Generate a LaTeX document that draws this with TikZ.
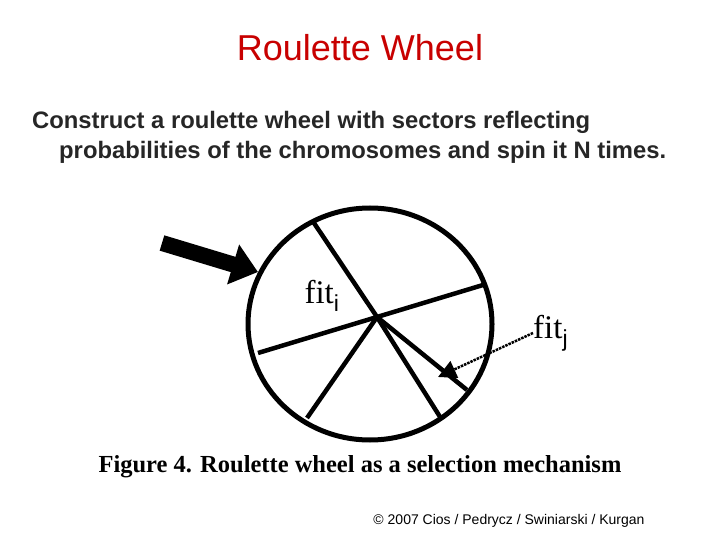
\documentclass[tikz,border=0pt]{standalone}
\usepackage{fontspec}
\setmainfont{Liberation Sans}
\newfontfamily\serif{Liberation Serif}
\usetikzlibrary{arrows.meta}
\definecolor{titlered}{RGB}{200,0,0}
\begin{document}
\begin{tikzpicture}[x=1pt,y=-1pt,
  spoke/.style={line width=4.5pt},
  body/.style={anchor=west,inner sep=0pt,font=\fontsize{23.8}{26}\selectfont\bfseries,text=black!85},
  lbl/.style={inner sep=0pt,font=\serif\fontsize{33}{35}\selectfont}]
\useasboundingbox[fill=white] (0,0) rectangle (720,540);
\node[font=\fontsize{36}{38}\selectfont,text=titlered] (title) at (360,48) {Roulette Wheel};
\node[body] (l1) at (32,122) {Construct a roulette wheel with sectors reflecting};
\node[body] (l2) at (59,152) {probabilities of the chromosomes and spin it N times.};
\coordinate (c) at (370,324);
\coordinate (h) at (377,317);
\draw[line width=5pt] (c) ellipse [x radius=122, y radius=116];
\coordinate (p1) at (312,220);
\coordinate (p2) at (483,285);
\coordinate (p3) at (258,353);
\coordinate (p4) at (307,418);
\coordinate (p5) at (442,420);
\coordinate (p6) at (467,390);
\foreach \p in {p1,p2,p3,p4,p5,p6} \draw[spoke] (h) -- (\p);
\coordinate (at) at (162,243);
\coordinate (ah) at (258,272);
\draw[line width=16pt,-{Triangle[length=26pt,width=40pt]}] (at) -- (ah);
\node[lbl] (fi) at (322,296) {fit$_{\mathrm{i}}$};
\node[lbl,anchor=west] (fj) at (533,333) {fit$_{\mathrm{j}}$};
\coordinate (jt) at (438,377);
\draw[line width=2.5pt,densely dotted,-{Triangle[length=18pt,width=18pt]}] (fj.west) -- (jt);
\node[font=\serif\bfseries\fontsize{24.5}{26}\selectfont] (cap) at (360,467) {Figure 4. Roulette wheel as a selection mechanism};
\node[anchor=east,font=\fontsize{14}{16}\selectfont] (copy) at (648,521) {© 2007 Cios / Pedrycz / Swiniarski / Kurgan};
\end{tikzpicture}
\end{document}
